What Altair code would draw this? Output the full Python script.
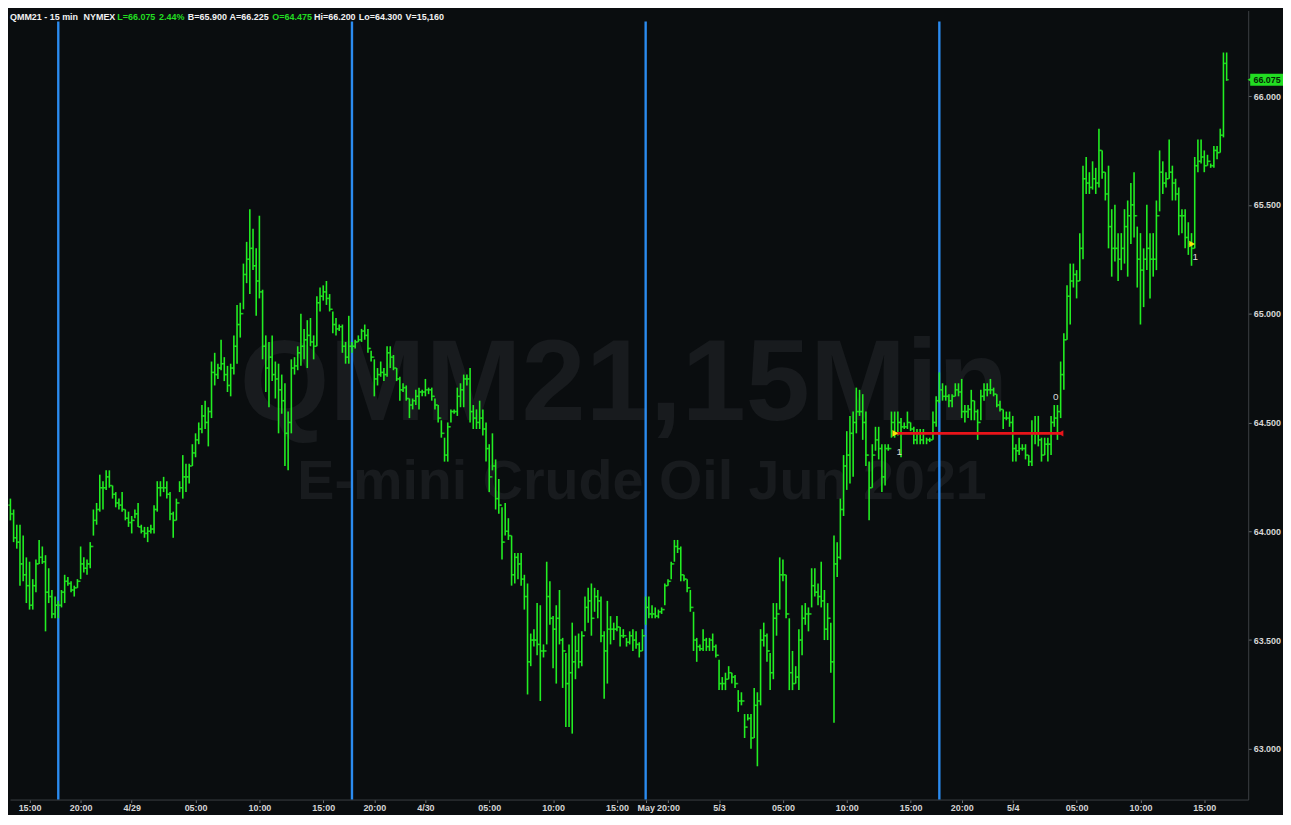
import altair as alt
import pandas as pd

# ---------------- data (15-min OHLC bars) ----------------
highs = [
    64.15, 64.10, 64.03, 64.03, 63.98, 63.88, 63.86, 63.78, 63.87, 63.96,
    63.93, 63.89, 63.83, 63.73, 63.70, 63.68, 63.73, 63.80, 63.79, 63.77,
    63.75, 63.78, 63.93, 63.88, 63.87, 63.95, 64.10, 64.13, 64.26, 64.23,
    64.28, 64.28, 64.21, 64.18, 64.15, 64.18, 64.10, 64.09, 64.07, 64.10,
    64.13, 64.03, 64.02, 64.02, 64.03, 64.12, 64.23, 64.23, 64.25, 64.23,
    64.18, 64.09, 64.15, 64.23, 64.35, 64.31, 64.31, 64.40, 64.45, 64.50,
    64.58, 64.60, 64.57, 64.78, 64.82, 64.77, 64.88, 64.80, 64.76, 64.77,
    64.90, 65.04, 65.05, 65.23, 65.33, 65.48, 65.39, 65.30, 65.45, 65.11,
    64.90, 64.87, 64.90, 64.78, 64.77, 64.72, 64.68, 64.55, 64.79, 64.80,
    64.85, 65.00, 64.93, 64.97, 64.98, 64.90, 65.08, 65.12, 65.13, 65.15,
    65.09, 65.01, 64.98, 64.95, 64.95, 64.87, 64.99, 64.87, 64.88, 64.90,
    64.93, 64.95, 64.93, 64.83, 64.79, 64.75, 64.78, 64.75, 64.85, 64.85,
    64.81, 64.75, 64.71, 64.68, 64.67, 64.61, 64.61, 64.65, 64.66, 64.65,
    64.70, 64.66, 64.66, 64.61, 64.58, 64.51, 64.43, 64.50, 64.56, 64.56,
    64.66, 64.68, 64.72, 64.72, 64.75, 64.58, 64.56, 64.60, 64.56, 64.50,
    64.40, 64.45, 64.33, 64.24, 64.11, 64.13, 64.06, 63.98, 63.90, 63.90,
    63.90, 63.80, 63.76, 63.53, 63.55, 63.67, 63.66, 63.48, 63.86, 63.77,
    63.61, 63.66, 63.73, 63.51, 63.44, 63.48, 63.58, 63.52, 63.53, 63.54,
    63.70, 63.74, 63.76, 63.74, 63.73, 63.70, 63.54, 63.68, 63.61, 63.58,
    63.61, 63.56, 63.55, 63.51, 63.54, 63.55, 63.54, 63.49, 63.55, 63.70,
    63.70, 63.66, 63.65, 63.64, 63.65, 63.76, 63.78, 63.86, 63.96, 63.96,
    63.93, 63.80, 63.78, 63.73, 63.63, 63.51, 63.48, 63.55, 63.51, 63.51,
    63.53, 63.48, 63.41, 63.33, 63.35, 63.38, 63.35, 63.34, 63.27, 63.26,
    63.16, 63.16, 63.16, 63.28, 63.26, 63.55, 63.58, 63.53, 63.44, 63.67,
    63.67, 63.88, 63.87, 63.80, 63.60, 63.45, 63.38, 63.55, 63.66, 63.67,
    63.65, 63.83, 63.83, 63.76, 63.86, 63.73, 63.67, 63.58, 63.98, 63.95,
    64.15, 64.35, 64.46, 64.53, 64.55, 64.66, 64.65, 64.63, 64.55, 64.32,
    64.40, 64.48, 64.48, 64.40, 64.40, 64.40, 64.55, 64.55, 64.55, 64.52,
    64.50, 64.55, 64.50, 64.48, 64.47, 64.47, 64.47, 64.43, 64.43, 64.55,
    64.62, 64.73, 64.68, 64.67, 64.63, 64.63, 64.68, 64.68, 64.70, 64.58,
    64.58, 64.65, 64.60, 64.56, 64.65, 64.68, 64.68, 64.70, 64.66, 64.63,
    64.60, 64.56, 64.55, 64.55, 64.53, 64.40, 64.43, 64.40, 64.40, 64.35,
    64.51, 64.53, 64.53, 64.43, 64.43, 64.43, 64.53, 64.58, 64.58, 64.78,
    64.91, 65.13, 65.23, 65.23, 65.20, 65.37, 65.68, 65.72, 65.65, 65.70,
    65.67, 65.85, 65.75, 65.65, 65.68, 65.48, 65.50, 65.37, 65.37, 65.48,
    65.52, 65.60, 65.65, 65.40, 65.37, 65.30, 65.50, 65.37, 65.37, 65.52,
    65.75, 65.70, 65.65, 65.80, 65.68, 65.62, 65.58, 65.48, 65.48, 65.42,
    65.37, 65.72, 65.80, 65.80, 65.75, 65.73, 65.69, 65.77, 65.77, 65.85,
    66.20, 66.20,
]
lows = [
    64.05, 63.95, 63.92, 63.75, 63.77, 63.67, 63.64, 63.64, 63.72, 63.85,
    63.85, 63.54, 63.67, 63.60, 63.60, 63.60, 63.65, 63.67, 63.75, 63.72,
    63.70, 63.74, 63.78, 63.81, 63.80, 63.83, 63.98, 64.03, 64.09, 64.10,
    64.19, 64.20, 64.15, 64.11, 64.10, 64.09, 64.05, 64.02, 63.99, 64.06,
    64.02, 63.99, 63.97, 63.95, 63.99, 63.99, 64.09, 64.16, 64.18, 64.15,
    64.05, 63.97, 64.05, 64.18, 64.15, 64.18, 64.22, 64.30, 64.34, 64.40,
    64.45, 64.47, 64.39, 64.52, 64.67, 64.70, 64.74, 64.69, 64.64, 64.62,
    64.72, 64.77, 64.89, 65.02, 65.14, 65.09, 65.20, 64.99, 65.07, 64.79,
    64.64, 64.57, 64.69, 64.61, 64.45, 64.54, 64.30, 64.28, 64.45, 64.72,
    64.74, 64.76, 64.79, 64.75, 64.85, 64.79, 64.85, 65.01, 65.06, 65.04,
    65.01, 64.91, 64.90, 64.92, 64.82, 64.77, 64.77, 64.82, 64.84, 64.87,
    64.87, 64.88, 64.82, 64.78, 64.62, 64.67, 64.71, 64.69, 64.71, 64.75,
    64.74, 64.69, 64.60, 64.64, 64.60, 64.52, 64.56, 64.58, 64.56, 64.62,
    64.62, 64.63, 64.60, 64.56, 64.50, 64.43, 64.32, 64.32, 64.50, 64.54,
    64.53, 64.57, 64.57, 64.67, 64.50, 64.47, 64.47, 64.47, 64.44, 64.32,
    64.18, 64.28, 64.10, 64.08, 63.87, 63.98, 63.96, 63.75, 63.76, 63.78,
    63.75, 63.64, 63.25, 63.38, 63.47, 63.43, 63.22, 63.42, 63.48, 63.57,
    63.37, 63.30, 63.48, 63.28, 63.10, 63.10, 63.07, 63.32, 63.37, 63.38,
    63.54, 63.58, 63.52, 63.63, 63.60, 63.49, 63.23, 63.30, 63.48, 63.50,
    63.54, 63.47, 63.51, 63.47, 63.48, 63.45, 63.46, 63.42, 63.45, 63.57,
    63.60, 63.60, 63.60, 63.60, 63.62, 63.66, 63.75, 63.78, 63.86, 63.90,
    63.77, 63.77, 63.72, 63.63, 63.45, 63.40, 63.45, 63.45, 63.45, 63.45,
    63.45, 63.42, 63.27, 63.27, 63.27, 63.32, 63.30, 63.28, 63.17, 63.20,
    63.05, 63.13, 63.00, 63.05, 62.92, 63.20, 63.47, 63.40, 63.27, 63.32,
    63.52, 63.64, 63.77, 63.60, 63.27, 63.27, 63.30, 63.27, 63.43, 63.57,
    63.54, 63.65, 63.70, 63.66, 63.65, 63.50, 63.50, 63.35, 63.12, 63.79,
    63.87, 64.07, 64.19, 64.22, 64.25, 64.45, 64.53, 64.42, 64.30, 64.05,
    64.20, 64.37, 64.33, 64.18, 64.21, 64.37, 64.43, 64.43, 64.44, 64.34,
    64.47, 64.47, 64.46, 64.40, 64.40, 64.40, 64.40, 64.40, 64.41, 64.42,
    64.48, 64.59, 64.60, 64.60, 64.57, 64.57, 64.62, 64.62, 64.52, 64.50,
    64.52, 64.51, 64.51, 64.42, 64.51, 64.60, 64.62, 64.63, 64.62, 64.57,
    64.55, 64.47, 64.51, 64.48, 64.32, 64.32, 64.35, 64.37, 64.33, 64.30,
    64.30, 64.40, 64.39, 64.32, 64.35, 64.32, 64.35, 64.48, 64.42, 64.52,
    64.65, 64.88, 64.95, 65.12, 65.07, 65.15, 65.25, 65.55, 65.55, 65.57,
    65.55, 65.58, 65.62, 65.52, 65.30, 65.17, 65.24, 65.15, 65.20, 65.23,
    65.17, 65.32, 65.35, 65.12, 64.95, 65.03, 65.20, 65.07, 65.17, 65.20,
    65.47, 65.55, 65.58, 65.62, 65.52, 65.52, 65.36, 65.37, 65.30, 65.27,
    65.22, 65.30, 65.65, 65.69, 65.65, 65.68, 65.67, 65.67, 65.71, 65.74,
    65.81, 66.07,
]
closes = [
    64.08, 63.97, 63.95, 63.85, 63.80, 63.75, 63.66, 63.75, 63.85, 63.88,
    63.86, 63.72, 63.70, 63.62, 63.66, 63.66, 63.72, 63.77, 63.76, 63.73,
    63.74, 63.77, 63.85, 63.83, 63.85, 63.93, 64.05, 64.10, 64.20, 64.20,
    64.25, 64.21, 64.17, 64.13, 64.12, 64.10, 64.06, 64.04, 64.05, 64.08,
    64.02, 64.00, 63.99, 64.00, 64.01, 64.10, 64.20, 64.20, 64.20, 64.17,
    64.08, 64.05, 64.13, 64.20, 64.25, 64.25, 64.30, 64.36, 64.42, 64.47,
    64.53, 64.50, 64.55, 64.73, 64.72, 64.75, 64.77, 64.72, 64.67, 64.75,
    64.85, 64.95, 65.00, 65.18, 65.25, 65.30, 65.22, 65.15, 65.10, 64.85,
    64.75, 64.80, 64.72, 64.70, 64.65, 64.60, 64.45, 64.50, 64.75, 64.76,
    64.82, 64.85, 64.88, 64.90, 64.87, 64.85, 65.05, 65.08, 65.10, 65.07,
    65.02, 64.95, 64.93, 64.94, 64.85, 64.80, 64.85, 64.85, 64.87, 64.88,
    64.92, 64.90, 64.84, 64.80, 64.70, 64.72, 64.73, 64.72, 64.82, 64.80,
    64.75, 64.70, 64.65, 64.66, 64.61, 64.58, 64.60, 64.62, 64.64, 64.64,
    64.65, 64.65, 64.62, 64.58, 64.52, 64.45, 64.35, 64.48, 64.55, 64.55,
    64.62, 64.65, 64.70, 64.70, 64.55, 64.52, 64.50, 64.52, 64.47, 64.38,
    64.25, 64.30, 64.15, 64.12, 63.95, 64.00, 63.98, 63.80, 63.88, 63.85,
    63.78, 63.70, 63.40, 63.50, 63.50, 63.48, 63.45, 63.45, 63.70, 63.60,
    63.55, 63.60, 63.50, 63.45, 63.30, 63.35, 63.40, 63.45, 63.40, 63.52,
    63.65, 63.68, 63.60, 63.70, 63.68, 63.52, 63.45, 63.55, 63.55, 63.55,
    63.56, 63.52, 63.52, 63.49, 63.52, 63.50, 63.48, 63.45, 63.52, 63.65,
    63.62, 63.62, 63.61, 63.63, 63.64, 63.75, 63.77, 63.85, 63.93, 63.92,
    63.80, 63.78, 63.74, 63.65, 63.50, 63.47, 63.46, 63.50, 63.47, 63.50,
    63.47, 63.43, 63.30, 63.30, 63.32, 63.35, 63.33, 63.30, 63.22, 63.22,
    63.10, 63.14, 63.05, 63.20, 63.22, 63.50, 63.52, 63.45, 63.35, 63.60,
    63.62, 63.80, 63.80, 63.62, 63.35, 63.30, 63.33, 63.50, 63.60, 63.62,
    63.62, 63.75, 63.72, 63.70, 63.68, 63.55, 63.60, 63.40, 63.85, 63.88,
    64.10, 64.30, 64.35, 64.45, 64.50, 64.55, 64.55, 64.50, 64.35, 64.20,
    64.35, 64.42, 64.38, 64.25, 64.38, 64.38, 64.50, 64.45, 64.50, 64.48,
    64.48, 64.50, 64.47, 64.42, 64.45, 64.42, 64.45, 64.42, 64.42, 64.50,
    64.60, 64.65, 64.62, 64.62, 64.60, 64.62, 64.65, 64.64, 64.55, 64.55,
    64.56, 64.60, 64.55, 64.50, 64.62, 64.65, 64.65, 64.65, 64.63, 64.58,
    64.56, 64.52, 64.52, 64.50, 64.38, 64.37, 64.38, 64.38, 64.35, 64.32,
    64.45, 64.45, 64.42, 64.35, 64.40, 64.40, 64.50, 64.52, 64.55, 64.72,
    64.88, 65.08, 65.15, 65.18, 65.15, 65.30, 65.62, 65.60, 65.58, 65.62,
    65.60, 65.75, 65.65, 65.55, 65.40, 65.30, 65.30, 65.25, 65.30, 65.40,
    65.45, 65.50, 65.45, 65.25, 65.20, 65.25, 65.30, 65.25, 65.25, 65.45,
    65.65, 65.60, 65.62, 65.65, 65.60, 65.55, 65.45, 65.45, 65.35, 65.32,
    65.30, 65.68, 65.70, 65.72, 65.68, 65.70, 65.68, 65.75, 65.74, 65.82,
    66.15, 66.075,
]
first_open = 64.12

session_starts = [15, 107, 199, 291]          # bar index of each session open
tick_bars = [6, 22, 38, 58, 78, 98, 114, 130, 150, 170, 190,
             199, 206, 222, 242, 262, 282, 298, 314, 334, 354, 374]
tick_labels = ["15:00", "20:00", "4/29", "05:00", "10:00", "15:00", "20:00",
               "4/30", "05:00", "10:00", "15:00", "May", "20:00", "5/3",
               "05:00", "10:00", "15:00", "20:00", "5/4", "05:00", "10:00", "15:00"]
price_ticks = [63.0, 63.5, 64.0, 64.5, 65.0, 65.5, 66.0]

trade_price = 64.45
trade_start, trade_end = 277.2, 329.0
entry2_bar, entry2_price = 370.2, 65.32
last_price = 66.075

header = [("QMM21 - 15 min", "#f2f2f2"), ("NYMEX", "#f2f2f2"), ("L=66.075", "#22dd22"),
          ("2.44%", "#22dd22"), ("B=65.900", "#f2f2f2"), ("A=66.225", "#f2f2f2"),
          ("O=64.475", "#22dd22"), ("Hi=66.200", "#f2f2f2"), ("Lo=64.300", "#f2f2f2"),
          ("V=15,160", "#f2f2f2")]
header_x = [0, 74, 108, 150, 179, 221, 264, 306, 351, 398]

# ---------------- build table ----------------
opens = [first_open] + closes[:-1]
df = pd.DataFrame({"k": list(range(len(closes))), "o": opens, "h": highs, "l": lows, "c": closes})

W, H = 1246, 794
BG = "#0a0d0f"
GREEN = "#22ee22"
FONT = "Liberation Sans"

xs = alt.Scale(domain=[-0.13, 387.76], nice=False, zero=False)
ys = alt.Scale(domain=[62.767, 66.393], nice=False, zero=False)

lab_expr = "[" + ",".join("'%s'" % t for t in tick_labels) + "][indexof([" + \
    ",".join(str(v) for v in tick_bars) + "], datum.value)]"

xaxis = alt.Axis(values=tick_bars, labelExpr=lab_expr, title=None, grid=False,
                 domainColor="#3b3f44", tickColor="#6a6e72", tickSize=3,
                 labelColor="#d6d6d6", labelFont=FONT, labelFontSize=9,
                 labelFontWeight="bold", labelOverlap=False, labelFlush=False,
                 labelPadding=1)
yaxis = alt.Axis(orient="right", values=price_ticks, format=".3f", title=None, grid=False,
                 domainColor="#3b3f44", tickColor="#6a6e72", tickSize=3,
                 labelColor="#d6d6d6", labelFont=FONT, labelFontSize=9,
                 labelFontWeight="bold", labelOverlap=False, labelFlush=False,
                 labelPadding=2)


def X(f):
    return alt.X(f + ":Q", scale=xs, axis=xaxis)


def Y(f):
    return alt.Y(f + ":Q", scale=ys, axis=yaxis)


one = pd.DataFrame({"a": [0]})
layers = []

# watermark
layers.append(alt.Chart(one).mark_text(font=FONT, fontWeight="bold", fontSize=116,
                                       color="#181b1e", align="center", baseline="alphabetic")
              .encode(x=alt.value(618), y=alt.value(412), text=alt.value("QMM21,15Min")))
layers.append(alt.Chart(one).mark_text(font=FONT, fontWeight="bold", fontSize=56,
                                       color="#181b1e", align="center", baseline="alphabetic")
              .encode(x=alt.value(636), y=alt.value(492),
                      text=alt.value("E-mini Crude Oil Jun 2021")))

# session separators
layers.append(alt.Chart(pd.DataFrame({"k": session_starts})).mark_rule(color="#2b8bef", strokeWidth=2.4)
              .encode(x=X("k"), y=alt.value(11), y2=alt.value(H)))

# OHLC bars
layers.append(alt.Chart(df).mark_rule(color=GREEN, strokeWidth=1.6)
              .encode(x=X("k"), y=Y("l"), y2="h"))
layers.append(alt.Chart(df).mark_tick(color=GREEN, orient="horizontal", size=2.2,
                                      thickness=1.5, xOffset=-1.1)
              .encode(x=X("k"), y=Y("o")))
layers.append(alt.Chart(df).mark_tick(color=GREEN, orient="horizontal", size=2.2,
                                      thickness=1.5, xOffset=1.1)
              .encode(x=X("k"), y=Y("c")))

# trade line and markers
trade = pd.DataFrame({"k": [trade_start], "k2": [trade_end], "p": [trade_price]})
layers.append(alt.Chart(trade).mark_rule(color="#e8141a", strokeWidth=2.8)
              .encode(x=X("k"), x2="k2", y=Y("p")))
layers.append(alt.Chart(pd.DataFrame({"k": [trade_start, entry2_bar], "p": [trade_price, entry2_price]}))
              .mark_point(shape="triangle-right", filled=True, color="#f5e60a", size=45, opacity=1)
              .encode(x=X("k"), y=Y("p")))
layers.append(alt.Chart(pd.DataFrame({"k": [trade_end], "p": [trade_price]}))
              .mark_point(shape="triangle-left", filled=True, color="#e8141a", size=40, opacity=1)
              .encode(x=X("k"), y=Y("p")))


def note(k, p, txt, dx, dy):
    return (alt.Chart(pd.DataFrame({"k": [k], "p": [p], "t": [txt]}))
            .mark_text(font=FONT, fontSize=10, color="#dcdcdc", dx=dx, dy=dy)
            .encode(x=X("k"), y=Y("p"), text="t:N"))


layers.append(note(trade_start, trade_price, "1", 4, 19))
layers.append(note(trade_end, trade_price, "0", -5, -37))
layers.append(note(entry2_bar, entry2_price, "1", 3, 13))

# last price tag on the axis
tag = pd.DataFrame({"p": [last_price], "t": ["%.3f" % last_price]})
layers.append(alt.Chart(tag).mark_tick(orient="vertical", color="#22dd22", size=12, thickness=33, opacity=1)
              .encode(x=alt.value(W + 18.5), y=Y("p")))
layers.append(alt.Chart(tag).mark_point(shape="triangle-left", filled=True, color="#22dd22", size=40, opacity=1)
              .encode(x=alt.value(W + 2), y=Y("p")))
layers.append(alt.Chart(tag).mark_text(font=FONT, fontSize=9, fontWeight="bold", color="#062406")
              .encode(x=alt.value(W + 19), y=Y("p"), text="t:N"))

# header line
for (txt, col), hx in zip(header, header_x):
    layers.append(alt.Chart(one).mark_text(font=FONT, fontSize=9, fontWeight="bold", color=col,
                                           align="left", baseline="alphabetic")
                  .encode(x=alt.value(hx), y=alt.value(10), text=alt.value(txt)))

chart = (alt.layer(*layers)
         .properties(width=W, height=H, background=BG, padding=0)
         .configure_view(stroke=None))

chart.save("out.html", embed_options={"renderer": "svg", "actions": False})
